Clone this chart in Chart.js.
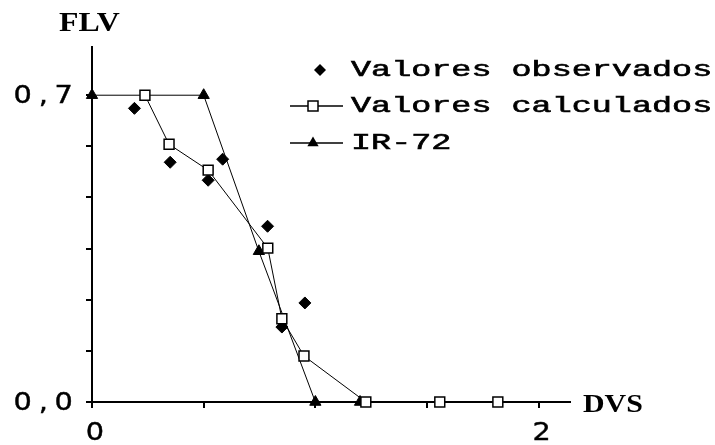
<!DOCTYPE html>
<html>
<head>
<meta charset="utf-8">
<script src="https://cdn.jsdelivr.net/npm/chart.js@4.4.1/dist/chart.umd.min.js"></script>
<style>
  html, body { margin: 0; padding: 0; background: #fff; }
  #wrap { width: 715px; height: 445px; }
</style>
</head>
<body>
<div id="wrap"><canvas id="chart" width="715" height="445"></canvas></div>
<script>
// FLV (leaf fraction) against development stage DVS
const seriesNames = ['Valores observados', 'Valores calculados', 'IR-72'];

const observedDVS = [0.19, 0.35, 0.52, 0.585, 0.786, 0.85, 0.953];
const observedFLV = [0.67, 0.547, 0.506, 0.554, 0.401, 0.171, 0.226];

const calculatedDVS = [0.237, 0.345, 0.52, 0.787, 0.85, 0.949, 1.226, 1.557, 1.817];
const calculatedFLV = [0.70, 0.588, 0.529, 0.351, 0.19, 0.105, 0, 0, 0];

const ir72DVS = [0, 0.5, 0.747, 1.0, 1.2];
const ir72FLV = [0.7, 0.7, 0.344, 0, 0];

const xTickValues = [0, 0.5, 1, 1.5, 2];
const xTickLabels = ['0', '', '', '', '2'];
const yTickValues = [0, 0.1167, 0.2333, 0.35, 0.4667, 0.5833, 0.7];
const yTickLabels = ['0,0', '', '', '', '', '', '0,7'];

const xTitle = 'DVS';
const yTitle = 'FLV';

const toPoints = (xs, ys) => xs.map((x, i) => ({ x: x, y: ys[i] }));

// draws text stretched horizontally by sx; an optional stroke thickens it
function wideText(ctx, text, x, y, font, sx, align, stroke) {
  ctx.save();
  ctx.font = font;
  ctx.textBaseline = 'alphabetic';
  ctx.textAlign = 'left';
  ctx.fillStyle = '#000';
  ctx.strokeStyle = '#000';
  const w = ctx.measureText(text).width * sx;
  const left = align === 'right' ? x - w : align === 'center' ? x - w / 2 : x;
  ctx.translate(left, y);
  ctx.scale(sx, 1);
  ctx.fillText(text, 0, 0);
  if (stroke) {
    ctx.lineWidth = stroke;
    ctx.strokeText(text, 0, 0);
  }
  ctx.restore();
}

// draws each character centred in a fixed-width cell, right-aligned at x
function cellText(ctx, text, right, y, font, sx, cell) {
  ctx.save();
  ctx.font = font;
  ctx.textBaseline = 'alphabetic';
  ctx.textAlign = 'center';
  ctx.fillStyle = '#000';
  ctx.strokeStyle = '#000';
  ctx.lineWidth = 0.4;
  const chars = Array.from(text);
  chars.forEach((ch, i) => {
    const cx = right - (chars.length - i - 0.5) * cell;
    ctx.save();
    ctx.translate(cx, y);
    ctx.scale(sx, 1);
    ctx.fillText(ch, 0, 0);
    ctx.strokeText(ch, 0, 0);
    ctx.restore();
  });
  ctx.restore();
}

function marker(ctx, style, x, y) {
  ctx.save();
  ctx.strokeStyle = '#000';
  ctx.fillStyle = '#000';
  ctx.beginPath();
  if (style === 'diamond') {
    const r = 6;
    ctx.moveTo(x, y - r); ctx.lineTo(x + r, y); ctx.lineTo(x, y + r); ctx.lineTo(x - r, y);
    ctx.closePath(); ctx.fill();
  } else if (style === 'square') {
    ctx.lineWidth = 1.5;
    ctx.fillStyle = '#fff';
    ctx.rect(x - 5, y - 5, 10, 10);
    ctx.fill(); ctx.stroke();
  } else {
    const r = 6.5;
    ctx.moveTo(x, y - r);
    ctx.lineTo(x + r * 0.866, y + r / 2);
    ctx.lineTo(x - r * 0.866, y + r / 2);
    ctx.closePath(); ctx.fill();
  }
  ctx.restore();
}

const textPlugin = {
  id: 'axisTextAndKey',
  afterDraw(chart) {
    const ctx = chart.ctx;
    const xs = chart.scales.x, ys = chart.scales.y;

    // tick labels
    yTickValues.forEach((v, i) => {
      if (!yTickLabels[i]) return;
      cellText(ctx, yTickLabels[i], 74, ys.getPixelForValue(v) + 8, '24px "DejaVu Sans"', 1.2, 20.5);
    });
    xTickValues.forEach((v, i) => {
      if (!xTickLabels[i]) return;
      wideText(ctx, xTickLabels[i], xs.getPixelForValue(v) + 3, 440, '25px "DejaVu Sans"', 1.15, 'center', 0.4);
    });

    // axis titles
    wideText(ctx, yTitle, 59, 31, 'bold 27px "Liberation Serif"', 1.18, 'left');
    wideText(ctx, xTitle, xs.right + 13, 412, 'bold 26px "Liberation Serif"', 1.15, 'left');

    // key
    const rows = [76, 112, 149];
    const mids = [70, 106, 143];
    const styles = ['diamond', 'square', 'triangle'];
    seriesNames.forEach((name, i) => {
      if (i > 0) {
        ctx.save();
        ctx.strokeStyle = '#000';
        ctx.lineWidth = 1.5;
        ctx.beginPath();
        ctx.moveTo(290, mids[i]); ctx.lineTo(343, mids[i]);
        ctx.stroke();
        ctx.restore();
        marker(ctx, styles[i], 313, mids[i]);
      } else {
        marker(ctx, styles[i], 320, mids[i]);
      }
      wideText(ctx, name, 351, rows[i], '22px "Liberation Mono"', 1.52, 'left', 0.6);
    });
  }
};

const axisCommon = {
  type: 'linear',
  min: 0,
  grid: {
    display: true,
    drawOnChartArea: false,
    drawTicks: true,
    tickLength: 6,
    tickWidth: 2,
    color: '#000',
    lineWidth: 2
  },
  border: { display: true, color: '#000', width: 2 },
  ticks: { display: false }
};

new Chart(document.getElementById('chart'), {
  type: 'scatter',
  data: {
    datasets: [
      {
        label: seriesNames[0],
        data: toPoints(observedDVS, observedFLV),
        showLine: false,
        pointStyle: 'rectRot',
        pointRadius: 6,
        pointBackgroundColor: '#000',
        pointBorderColor: '#000',
        pointBorderWidth: 1,
        order: 3,
        clip: false
      },
      {
        label: seriesNames[1],
        data: toPoints(calculatedDVS, calculatedFLV),
        showLine: true,
        borderColor: '#000',
        borderWidth: 1,
        pointStyle: 'rect',
        pointRadius: 7,
        pointBackgroundColor: '#fff',
        pointBorderColor: '#000',
        pointBorderWidth: 1.5,
        order: 1,
        clip: false
      },
      {
        label: seriesNames[2],
        data: toPoints(ir72DVS, ir72FLV),
        showLine: true,
        borderColor: '#000',
        borderWidth: 1,
        pointStyle: 'triangle',
        pointRadius: 6.5,
        pointBackgroundColor: '#000',
        pointBorderColor: '#000',
        pointBorderWidth: 1,
        order: 2,
        clip: false
      }
    ]
  },
  options: {
    responsive: false,
    animation: false,
    devicePixelRatio: 1,
    layout: { padding: { left: 86, top: 47, right: 145, bottom: 37 } },
    plugins: { legend: { display: false }, tooltip: { enabled: false } },
    scales: {
      x: Object.assign({}, axisCommon, {
        max: 2.14,
        afterBuildTicks: (s) => { s.ticks = xTickValues.map(v => ({ value: v })); }
      }),
      y: Object.assign({}, axisCommon, {
        max: 0.81,
        afterBuildTicks: (s) => { s.ticks = yTickValues.map(v => ({ value: v })); }
      })
    }
  },
  plugins: [textPlugin]
});
</script>
</body>
</html>
